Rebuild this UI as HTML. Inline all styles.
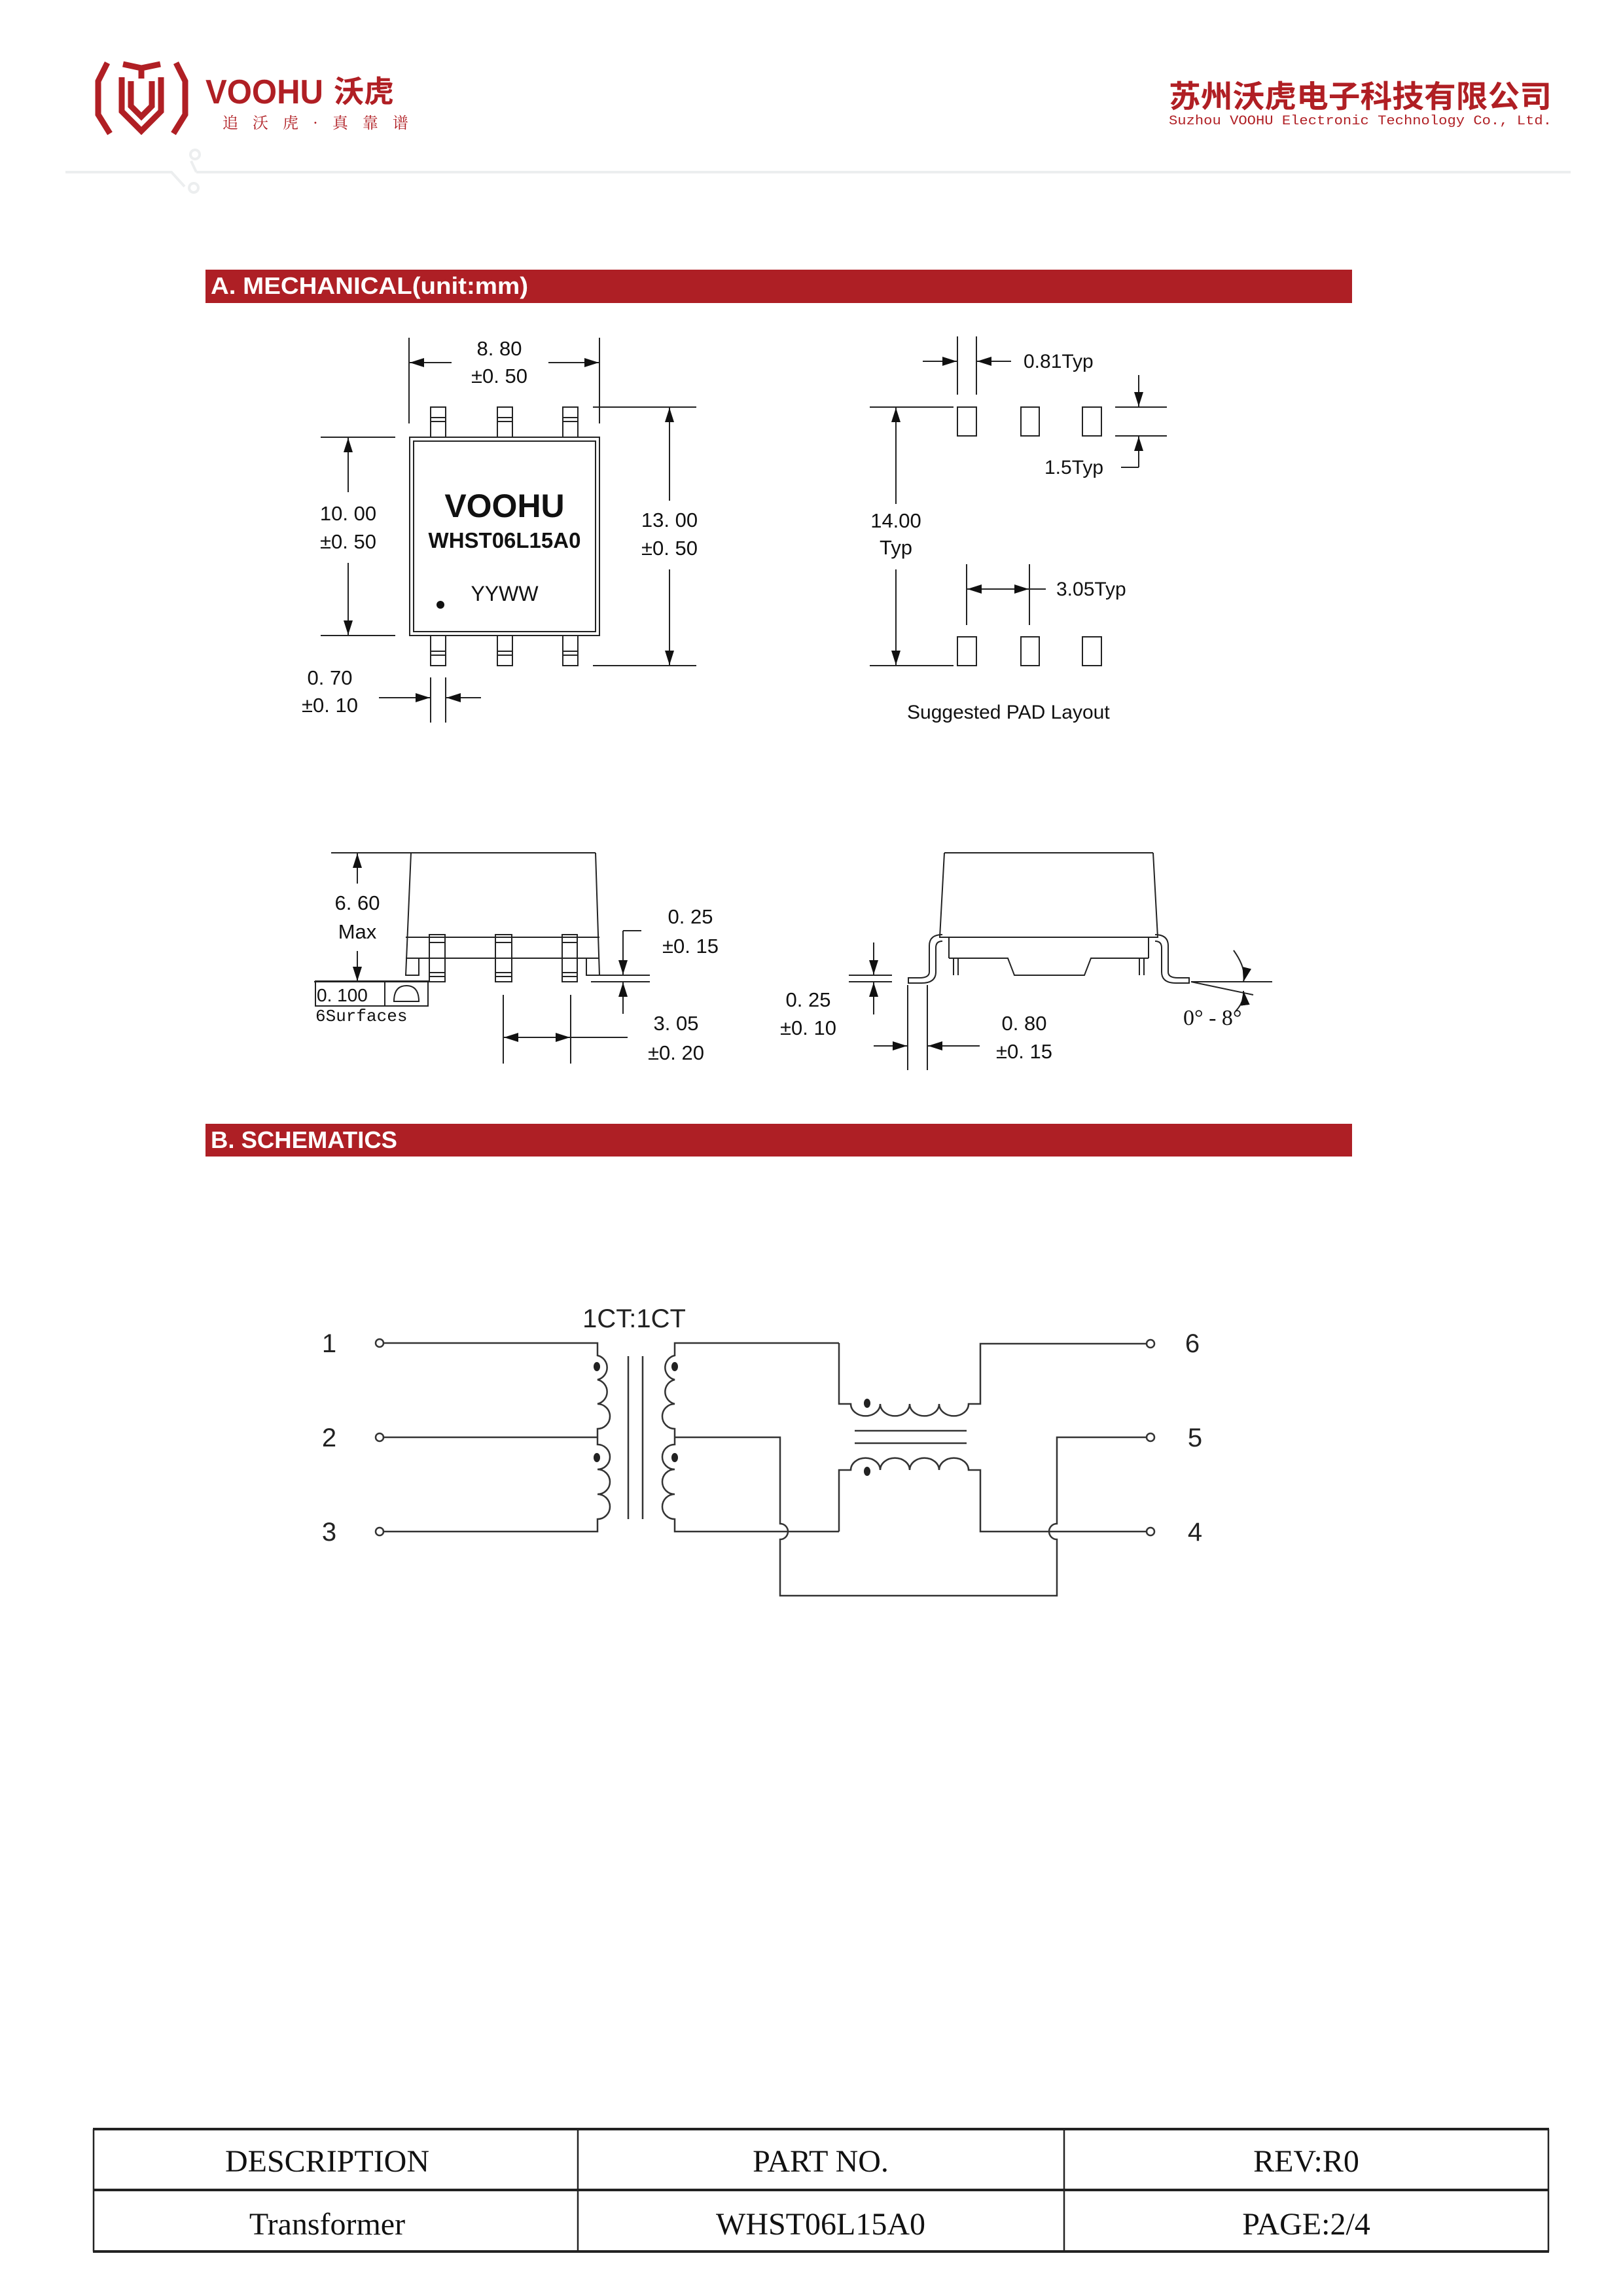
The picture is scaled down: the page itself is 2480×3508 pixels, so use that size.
<!DOCTYPE html>
<html><head><meta charset="utf-8"><style>
html,body{margin:0;padding:0;background:#fff;}
svg{display:block;}
</style></head><body>
<svg width="2480" height="3508" viewBox="0 0 2480 3508" xmlns="http://www.w3.org/2000/svg">
<defs>
<marker id="ar" markerUnits="userSpaceOnUse" markerWidth="24" markerHeight="14" refX="22" refY="7" orient="auto-start-reverse"><path d="M0,0 L22,7 L0,14 z" fill="#111"/></marker>
</defs>

<!-- Header logo -->
<g fill="none" stroke="#b01f24" stroke-width="9" stroke-linejoin="miter">
<path d="M164,96 L150,124 L150,175 L168,204 M269,96 L283,124 L283,175 L265,204"/>
<path d="M188,98 L216,104 L245,98 M216,104 L216,120 M186,118 L186,170 L216,200 L246,170 L246,118"/>
<path d="M200,124 L200,162 L216,178 L232,162 L232,124"/>
</g>
<text x="314" y="158" font-family="Liberation Sans, sans-serif" font-size="52" font-weight="bold" fill="#b01f24" textLength="180" lengthAdjust="spacingAndGlyphs">VOOHU</text>
<text x="510" y="156" font-family="Liberation Sans, 'Noto Sans CJK SC', sans-serif" font-size="46" font-weight="bold" fill="#b01f24">沃虎</text>
<text x="340" y="196" font-family="'Noto Serif CJK SC', serif" font-size="24" fill="#b01f24" letter-spacing="22">追沃虎·真靠谱</text>
<text x="1786" y="164" font-family="Liberation Sans, 'Noto Sans CJK SC', sans-serif" font-size="47" font-weight="bold" fill="#b01f24" textLength="585" lengthAdjust="spacingAndGlyphs">苏州沃虎电子科技有限公司</text>
<text x="1786" y="190" font-family="Liberation Mono, monospace" font-size="20" fill="#b01f24" textLength="585" lengthAdjust="spacingAndGlyphs">Suzhou VOOHU Electronic Technology Co., Ltd.</text>
<g stroke="#eceeef" stroke-width="4" fill="none">
<path d="M100,263 L262,263 L282,285 M300,263 L2400,263 M300,263 L292,246"/>
<circle cx="298" cy="236" r="7"/><circle cx="296" cy="287" r="7"/>
</g>

<!-- Section bars -->
<rect x="314" y="412" width="1752" height="51" fill="#ae1f25"/>
<text x="322" y="449" font-family="Liberation Sans, sans-serif" font-size="36" font-weight="bold" fill="#fff" textLength="485" lengthAdjust="spacingAndGlyphs">A. MECHANICAL(unit:mm)</text>
<rect x="314" y="1717" width="1752" height="50" fill="#ae1f25"/>
<text x="322" y="1754" font-family="Liberation Sans, sans-serif" font-size="36" font-weight="bold" fill="#fff" textLength="285" lengthAdjust="spacingAndGlyphs">B. SCHEMATICS</text>

<g stroke="#222" stroke-width="2" fill="none">
<!-- Top view body -->
<rect x="626" y="668" width="290" height="303"/>
<rect x="632" y="674" width="278" height="291"/>
<rect x="658" y="622" width="23" height="46"/><rect x="760" y="622" width="23" height="46"/><rect x="860" y="622" width="23" height="46"/>
<rect x="658" y="971" width="23" height="46"/><rect x="760" y="971" width="23" height="46"/><rect x="860" y="971" width="23" height="46"/>
<path d="M658,638 h23 M658,644 h23 M760,638 h23 M760,644 h23 M860,638 h23 M860,644 h23 M658,995 h23 M658,1001 h23 M760,995 h23 M760,1001 h23 M860,995 h23 M860,1001 h23"/>
<path d="M625,516 V647 M916,516 V647"/>
<path d="M690,554 H626" marker-end="url(#ar)"/><path d="M838,554 H915" marker-end="url(#ar)"/>
<path d="M490,668 H604 M490,971 H604"/>
<path d="M532,752 V669" marker-end="url(#ar)"/><path d="M532,860 V970" marker-end="url(#ar)"/>
<path d="M906,622 H1064 M906,1017 H1064"/>
<path d="M1023,765 V623" marker-end="url(#ar)"/><path d="M1023,870 V1016" marker-end="url(#ar)"/>
<path d="M658,1035 V1104 M681,1035 V1104"/>
<path d="M579,1066 H657" marker-end="url(#ar)"/><path d="M735,1066 H682" marker-end="url(#ar)"/>

<!-- Pad layout -->
<rect x="1463" y="622" width="29" height="44"/><rect x="1560" y="622" width="28" height="44"/><rect x="1654" y="622" width="29" height="44"/>
<rect x="1463" y="973" width="29" height="44"/><rect x="1560" y="973" width="28" height="44"/><rect x="1654" y="973" width="29" height="44"/>
<path d="M1329,622 H1457 M1329,1017 H1457"/>
<path d="M1369,770 V623" marker-end="url(#ar)"/><path d="M1369,870 V1016" marker-end="url(#ar)"/>
<path d="M1463,514 V603 M1492,514 V603"/>
<path d="M1410,552 H1462" marker-end="url(#ar)"/><path d="M1545,552 H1493" marker-end="url(#ar)"/>
<path d="M1704,622 H1783 M1704,666 H1783"/>
<path d="M1740,573 V621" marker-end="url(#ar)"/><path d="M1740,714 V667" marker-end="url(#ar)"/><path d="M1740,714 H1713"/>
<path d="M1477,862 V955 M1573,862 V955"/>
<path d="M1525,900 H1478" marker-end="url(#ar)"/><path d="M1525,900 H1572" marker-end="url(#ar)"/><path d="M1573,900 H1598"/>

<!-- Side view left -->
<path d="M506,1303 H910 M628,1303 L620,1490 H640 V1464 M910,1303 L916,1490 H896 V1464"/>
<path d="M620,1432 H916 M620,1464 H916"/>
<rect x="656" y="1428" width="24" height="72"/><rect x="757" y="1428" width="25" height="72"/><rect x="859" y="1428" width="23" height="72"/>
<path d="M656,1440 h24 M757,1440 h25 M859,1440 h23 M656,1486 h24 M656,1492 h24 M757,1486 h25 M757,1492 h25 M859,1486 h23 M859,1492 h23"/>
<path d="M480,1500 H656"/>
<path d="M546,1350 V1304" marker-end="url(#ar)"/><path d="M546,1453 V1499" marker-end="url(#ar)"/>
<rect x="482" y="1499" width="172" height="38"/><path d="M588,1499 V1537"/>
<path d="M602,1530 Q602,1506 621,1506 Q640,1506 640,1530 Z"/>
<path d="M903,1490 H993 M903,1500 H993"/>
<path d="M952,1422 H980 M952,1422 V1489" marker-end="url(#ar)"/><path d="M952,1549 V1501" marker-end="url(#ar)"/>
<path d="M769,1520 V1625 M872,1520 V1625"/>
<path d="M820,1585 H770" marker-end="url(#ar)"/><path d="M820,1585 H871" marker-end="url(#ar)"/><path d="M872,1585 H959"/>

<!-- Side view right -->
<path d="M1443,1303 H1762 M1443,1303 L1436,1432 H1769 L1762,1303"/>
<path d="M1450,1464 H1540 L1550,1490 H1657 L1667,1464 H1755"/>
<path d="M1450,1464 V1432 M1755,1464 V1432 M1457,1464 V1490 M1464,1464 V1490 M1741,1464 V1490 M1748,1464 V1490"/>
<path d="M1440,1428 Q1420,1428 1420,1445 V1485 Q1420,1494 1405,1494 H1388 V1502 H1408 Q1430,1502 1430,1485 V1448 Q1430,1438 1440,1438"/>
<path d="M1765,1428 Q1785,1428 1785,1445 V1485 Q1785,1494 1800,1494 H1817 V1502 H1797 Q1775,1502 1775,1485 V1448 Q1775,1438 1765,1438"/>
<path d="M1297,1490 H1363 M1297,1500 H1363"/>
<path d="M1335,1440 V1489" marker-end="url(#ar)"/><path d="M1335,1550 V1501" marker-end="url(#ar)"/>
<path d="M1387,1505 V1635 M1417,1505 V1635"/>
<path d="M1335,1598 H1386" marker-end="url(#ar)"/><path d="M1497,1598 H1418" marker-end="url(#ar)"/>
<path d="M1820,1500 H1944 M1820,1500 L1915,1520"/>
<path d="M1885,1452 Q1905,1480 1900,1500" marker-end="url(#ar)"/><path d="M1888,1545 Q1902,1530 1900,1514" marker-end="url(#ar)"/>
</g>

<!-- Mechanical text -->
<g font-family="Liberation Sans, sans-serif" font-size="31" fill="#111" text-anchor="middle">
<text x="763" y="543">8. 80</text><text x="763" y="585">±0. 50</text>
<text x="532" y="795">10. 00</text><text x="532" y="838">±0. 50</text>
<text x="1023" y="805">13. 00</text><text x="1023" y="848">±0. 50</text>
<text x="504" y="1046">0. 70</text><text x="504" y="1088">±0. 10</text>
<text x="1369" y="806">14.00</text><text x="1369" y="847">Typ</text>
<text x="546" y="1390">6. 60</text><text x="546" y="1434">Max</text>
<text x="1055" y="1411">0. 25</text><text x="1055" y="1456">±0. 15</text>
<text x="1033" y="1574">3. 05</text><text x="1033" y="1619">±0. 20</text>
<text x="1235" y="1538">0. 25</text><text x="1235" y="1581">±0. 10</text>
<text x="1565" y="1574">0. 80</text><text x="1565" y="1617">±0. 15</text>
</g>
<g font-family="Liberation Sans, sans-serif" font-size="30" fill="#111">
<text x="1564" y="562">0.81Typ</text>
<text x="1596" y="724">1.5Typ</text>
<text x="1614" y="910">3.05Typ</text>
<text x="1386" y="1098">Suggested PAD Layout</text>
<text x="484" y="1530" font-size="28">0. 100</text>
<text x="482" y="1560" font-size="26" font-family="Liberation Mono, monospace">6Surfaces</text>
</g>
<text x="1808" y="1566" font-family="Liberation Serif, serif" font-size="34" fill="#111">0° - 8°</text>
<text x="771" y="790" text-anchor="middle" font-family="Liberation Sans, sans-serif" font-size="50" font-weight="bold" fill="#111">VOOHU</text>
<text x="771" y="837" text-anchor="middle" font-family="Liberation Sans, sans-serif" font-size="33" font-weight="bold" fill="#111">WHST06L15A0</text>
<text x="771" y="918" text-anchor="middle" font-family="Liberation Sans, sans-serif" font-size="32" fill="#111">YYWW</text>
<circle cx="673" cy="924" r="6" fill="#111"/>

<!-- Schematic -->
<g stroke="#333" stroke-width="2.5" fill="none">
<circle cx="580" cy="2052" r="6"/><circle cx="580" cy="2196" r="6"/><circle cx="580" cy="2340" r="6"/>
<circle cx="1758" cy="2053" r="6"/><circle cx="1758" cy="2196" r="6"/><circle cx="1758" cy="2340" r="6"/>
<path d="M586,2052 H913 V2071 a19,19 0 0 1 0,37 a19,19 0 0 1 0,37 a19,19 0 0 1 0,38 V2207 a19,19 0 0 1 0,38 a19,19 0 0 1 0,38 a19,19 0 0 1 0,38 V2340 H586"/>
<path d="M586,2196 H913"/>
<path d="M960,2072 V2321 M982,2072 V2321"/>
<path d="M1282,2052 H1031 V2071 a19,19 0 0 0 0,37 a19,19 0 0 0 0,37 a19,19 0 0 0 0,38 V2207 a19,19 0 0 0 0,38 a19,19 0 0 0 0,38 a19,19 0 0 0 0,38 V2340 H1282"/>
<path d="M1031,2196 H1192 V2328 a12,12 0 0 1 0,24 V2438 H1615 V2352 a12,12 0 0 1 0,-24 V2196 H1752"/>
<path d="M1282,2052 V2145 H1300 a22,18 0 0 0 45,0 a22,18 0 0 0 45,0 a22,18 0 0 0 45,0 a22,18 0 0 0 45,0 H1498 V2053 H1752"/>
<path d="M1282,2340 V2246 H1300 a22,18 0 0 1 45,0 a22,18 0 0 1 45,0 a22,18 0 0 1 45,0 a22,18 0 0 1 45,0 H1498 V2340 H1752"/>
<path d="M1306,2186 H1477 M1306,2205 H1477"/>
</g>
<g fill="#222">
<ellipse cx="912" cy="2088" rx="5" ry="7"/><ellipse cx="912" cy="2227" rx="5" ry="7"/>
<ellipse cx="1031" cy="2088" rx="5" ry="7"/><ellipse cx="1031" cy="2227" rx="5" ry="7"/>
<ellipse cx="1325" cy="2144" rx="5" ry="7"/><ellipse cx="1325" cy="2248" rx="5" ry="7"/>
</g>
<g font-family="Liberation Sans, sans-serif" font-size="40" fill="#222" text-anchor="middle">
<text x="969" y="2028">1CT:1CT</text>
<text x="503" y="2066">1</text><text x="503" y="2210">2</text><text x="503" y="2354">3</text>
<text x="1822" y="2066">6</text><text x="1826" y="2210">5</text><text x="1826" y="2354">4</text>
</g>

<!-- Footer table -->
<g stroke="#222" fill="none">
<path d="M142,3253 H2367 M142,3346 H2367 M142,3440 H2367" stroke-width="4"/>
<path d="M143,3253 V3440 M883,3253 V3440 M1626,3253 V3440 M2366,3253 V3440" stroke-width="2.5"/>
</g>
<g font-family="Liberation Serif, serif" font-size="48" fill="#111" text-anchor="middle">
<text x="500" y="3318">DESCRIPTION</text><text x="1254" y="3318">PART NO.</text><text x="1996" y="3318">REV:R0</text>
<text x="500" y="3414">Transformer</text><text x="1254" y="3414">WHST06L15A0</text><text x="1996" y="3414">PAGE:2/4</text>
</g>
</svg>
</body></html>
